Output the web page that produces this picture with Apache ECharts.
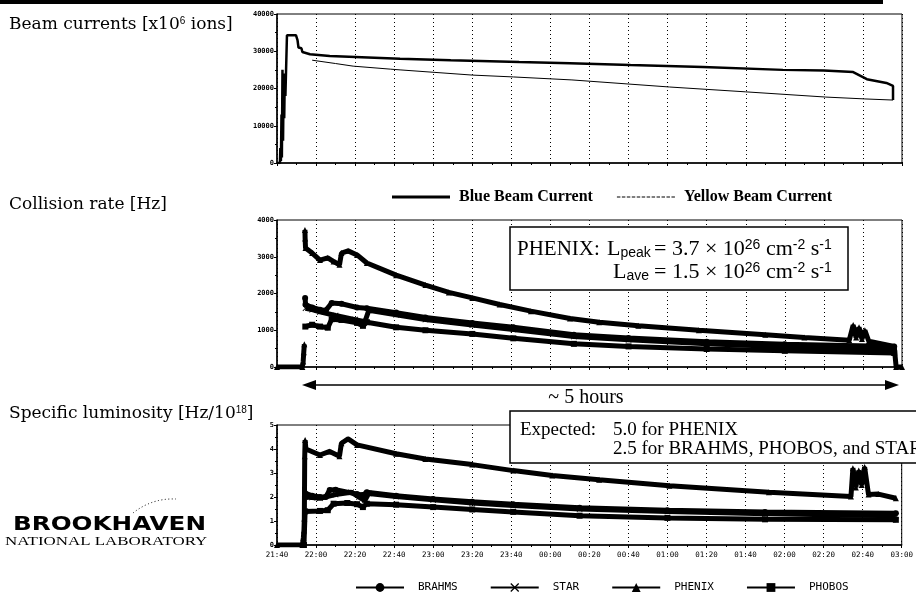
<!DOCTYPE html>
<html>
<head>
<meta charset="utf-8">
<script src="https://cdn.jsdelivr.net/npm/echarts@6/dist/echarts.min.js"></script>
<style>
  html, body { margin: 0; padding: 0; background: #fff; }
  #chart { width: 916px; height: 595px; }
</style>
</head>
<body>
<div id="chart"></div>
<script>
// x values are minutes after 21:40; one tick label every 20 minutes
const timeLabels = ['21:40','22:00','22:20','22:40','23:00','23:20','23:40','00:00','00:20',
                    '00:40','01:00','01:20','01:40','02:00','02:20','02:40','03:00'];

// Beam currents [x10^6 ions]
const blueBeam = [[0,0],[1.5,0],[1.7,4000],[2.0,500],[2.3,13000],[2.5,1500],[2.8,25000],[3.1,6000],
  [3.4,22000],[3.7,12000],[4.0,24000],[4.3,18000],[5.1,34300],[9.7,34300],[10.5,33000],[11,31000],
  [11.8,30500],[12.5,30800],[13,29800],[16.9,29200],[27,28700],[63,28000],[89,27600],[124,27100],
  [150,26800],[181,26300],[218,25800],[259,25000],[280,24800],[295,24400],[302,22500],[312,21500],
  [315.4,20700],[315.4,16900]];
const yellowBeam = [[18,27600],[30,26700],[39,26000],[58,25200],[63,25000],[100,23600],[121,23100],
  [151,22300],[201,20400],[240,19100],[281,17700],[301,17200],[315.4,16900]];

// Collision rate [Hz]
const rateBRAHMS = [[14.4,1880],[14.6,1700],[18,1620],[22,1560],[25,1540],[28,1740],[33,1720],[41,1620],
  [46,1600],[61,1480],[76,1350],[100,1200],[121,1080],[152,880],[180,790],[220,690],[260,620],[316,560]];
const rateSTAR = [[14.6,1600],[18,1560],[22,1500],[30,1400],[40,1290],[45,1230],[47,1540],[61,1420],
  [76,1290],[100,1140],[121,1020],[152,830],[180,740],[220,630],[260,550],[316,480]];
const ratePHENIX = [[0,0],[13,0],[13.4,150],[13.7,400],[14,620],[14.1,'-'],[14.3,3730],[14.4,3500],
  [14.6,3240],[18,3100],[22,2910],[26,2970],[29,2870],[32,2780],[33,3100],[36.4,3160],[41,3050],
  [46,2830],[61,2500],[76,2230],[88,2030],[100,1880],[114,1700],[130,1520],[150,1320],[165,1220],
  [185,1120],[216,1000],[250,880],[270,800],[293,730],[295,1140],[296.5,800],[298,1080],[299.5,760],
  [301,1000],[303,700],[316,560],[317,0],[320,0]];
const ratePHOBOS = [[14.5,1100],[18,1150],[22,1100],[26,1070],[28,1300],[33,1280],[41,1200],[44,1120],
  [46,1220],[61,1080],[76,1000],[100,900],[121,780],[152,630],[180,560],[220,490],[260,440],[316,380]];

// Specific luminosity [Hz/10^18]
const lumiBRAHMS = [[14.4,2.16],[18,2.05],[22,2.0],[25,2.0],[27,2.29],[30,2.3],[41,2.12],[44,2.08],
  [46,2.2],[61,2.05],[80,1.92],[100,1.8],[121,1.7],[155,1.55],[200,1.45],[250,1.38],[317,1.32]];
const lumiSTAR = [[14.4,2.0],[18,1.98],[22,1.95],[30,2.1],[38,2.2],[42,2.0],[45,1.85],[47,2.15],
  [61,2.02],[80,1.88],[100,1.75],[121,1.65],[155,1.5],[200,1.4],[250,1.3],[317,1.22]];
const lumiPHENIX = [[0,0],[13,0],[13.5,0.3],[13.8,0.6],[14,1.1],[14.2,3.7],[14.4,4.37],[14.8,4.0],
  [22,3.75],[27,3.9],[32,3.7],[33,4.24],[36.4,4.42],[41,4.17],[61,3.8],[76,3.58],[100,3.35],[121,3.1],
  [141,2.9],[165,2.72],[201,2.47],[252,2.2],[294,2.02],[295,3.2],[296.5,2.4],[298,3.1],[299.5,2.5],
  [301,3.25],[303,2.1],[308,2.12],[317,1.95]];
const lumiPHOBOS = [[13.8,0],[14.4,1.4],[22,1.42],[26,1.45],[29,1.72],[36,1.75],[41,1.7],[44,1.58],
  [46,1.72],[61,1.68],[80,1.58],[100,1.48],[121,1.38],[155,1.22],[200,1.13],[250,1.07],[317,1.05]];

const BLACK = '#000';
const mono = 'DejaVu Sans Mono';
const serif = 'Liberation Serif';
const crossPath = 'path://M0 1L1 0L5 4L9 0L10 1L6 5L10 9L9 10L5 6L1 10L0 9L4 5Z';
const markers = { BRAHMS: 'circle', STAR: crossPath, PHENIX: 'triangle', PHOBOS: 'rect' };

// legend samples for the two beams: a solid bar and a thin dashed rule
const solidSample = 'path://M0,0h0.05v0.05h-0.05z M0,4.5h58v3h-58z M57.95,11.95h0.05v0.05h-0.05z';
let dashParts = '';
for (let x = 0; x < 56; x += 5) dashParts += ' M' + x + ',5.5h3.5v1h-3.5z';
const dashedSample = 'path://M0,0h0.05v0.05h-0.05z' + dashParts + ' M57.95,11.95h0.05v0.05h-0.05z';

const chart = echarts.init(document.getElementById('chart'), null, { renderer: 'canvas' });

const grids = [
  { left: 277, top: 14, width: 625, height: 149 },
  { left: 277, top: 220, width: 625, height: 147 },
  { left: 277, top: 425, width: 625, height: 120 }
].map(g => Object.assign({ show: true, borderColor: BLACK, borderWidth: 1, backgroundColor: 'transparent' }, g));

function xAxis(i) {
  return {
    type: 'value', gridIndex: i, min: 0, max: 320, interval: 20,
    axisLine: { show: true, onZero: false, lineStyle: { color: BLACK, width: 1.5 } },
    axisTick: { show: true, length: 3, lineStyle: { color: BLACK } },
    minorTick: { show: true, splitNumber: 2, length: 2, lineStyle: { color: BLACK } },
    splitLine: { show: true, lineStyle: { color: BLACK, width: 1, type: [1, 3] } },
    axisLabel: {
      show: i === 2, margin: 6, color: BLACK, fontFamily: mono, fontSize: 7.5,
      formatter: v => timeLabels[Math.round(v / 20)]
    }
  };
}
function yAxis(i, max, interval) {
  return {
    type: 'value', gridIndex: i, min: 0, max: max, interval: interval,
    axisLine: { show: true, lineStyle: { color: BLACK, width: 1.5 } },
    axisTick: { show: true, length: 3, lineStyle: { color: BLACK } },
    minorTick: { show: true, splitNumber: 2, length: 2, lineStyle: { color: BLACK } },
    splitLine: { show: false },
    axisLabel: { margin: 3, color: BLACK, fontFamily: mono, fontSize: 7, fontWeight: 'bold',
      formatter: v => String(v) }
  };
}

function detector(name, data, axis) {
  return {
    name: name, type: 'line', xAxisIndex: axis, yAxisIndex: axis, data: data,
    symbol: markers[name], symbolSize: 6, showAllSymbol: true, connectNulls: false,
    lineStyle: { color: BLACK, width: 5 }, itemStyle: { color: BLACK }, z: 3
  };
}

function label(x, y, text, size, extra) {
  return {
    type: 'text', x: x, y: y, z: 100,
    style: Object.assign({ text: text, fontFamily: serif, fontSize: size, fill: BLACK, verticalAlign: 'middle' }, extra || {})
  };
}
function scripts(size) {
  return {
    sup: { fontSize: size, lineHeight: size, verticalAlign: 'top' },
    sub: { fontSize: size, lineHeight: size, verticalAlign: 'bottom' }
  };
}

const graphics = [
  { type: 'rect', z: 100, shape: { x: 0, y: 0, width: 883, height: 4 }, style: { fill: BLACK } },

  label(9, 25, 'Beam currents [x10{sup|6} ions]', 17, { fontFamily: 'DejaVu Serif', rich: scripts(10) }),
  label(9, 205, 'Collision rate [Hz]', 17, { fontFamily: 'DejaVu Serif' }),
  label(9, 414, 'Specific luminosity [Hz/10{sup|18}]', 17, { fontFamily: 'DejaVu Serif', rich: scripts(10) }),

  // PHENIX luminosity box
  { type: 'rect', z: 99, shape: { x: 510, y: 227, width: 338, height: 63 },
    style: { fill: '#fff', stroke: BLACK, lineWidth: 1.5 } },
  label(517, 249, 'PHENIX:', 21),
  label(607, 249, 'L{sub|peak}', 22, { rich: scripts(14) }),
  label(654, 249, '= 3.7 × 10{sup|26} cm{sup|-2} s{sup|-1}', 22, { rich: scripts(14) }),
  label(613, 272, 'L{sub|ave}', 22, { rich: scripts(14) }),
  label(654, 272, '= 1.5 × 10{sup|26} cm{sup|-2} s{sup|-1}', 22, { rich: scripts(14) }),

  // duration arrow
  { type: 'line', z: 100, shape: { x1: 310, y1: 385, x2: 890, y2: 385 }, style: { stroke: BLACK, lineWidth: 1.5 } },
  { type: 'polygon', z: 100, shape: { points: [[302, 385], [316, 380], [316, 390]] }, style: { fill: BLACK } },
  { type: 'polygon', z: 100, shape: { points: [[899, 385], [885, 380], [885, 390]] }, style: { fill: BLACK } },
  label(586, 398, '~ 5 hours', 20, { align: 'center' }),

  // expected values box
  { type: 'rect', z: 99, shape: { x: 510, y: 411, width: 420, height: 52 },
    style: { fill: '#fff', stroke: BLACK, lineWidth: 1.5 } },
  label(520, 430, 'Expected:', 19),
  label(613, 430, '5.0 for PHENIX', 19),
  label(613, 449, '2.5 for BRAHMS, PHOBOS, and STAR', 19),

  // laboratory mark
  { type: 'bezierCurve', z: 100, shape: { x1: 133, y1: 513, cpx1: 152, cpy1: 498, x2: 176, y2: 499 },
    style: { stroke: BLACK, lineWidth: 1, lineDash: [1, 2.5], fill: null } },
  { type: 'text', x: 13, y: 525, z: 100, scaleX: 1.23,
    style: { text: 'BROOKHAVEN', fontFamily: 'DejaVu Sans', fontWeight: 'bold', fontSize: 20, fill: BLACK, verticalAlign: 'middle' } },
  { type: 'text', x: 5, y: 542, z: 100, scaleX: 1.41,
    style: { text: 'NATIONAL LABORATORY', fontFamily: serif, fontSize: 12, fill: BLACK, verticalAlign: 'middle' } }
];

const option = {
  animation: false,
  backgroundColor: '#fff',
  grid: grids,
  xAxis: [xAxis(0), xAxis(1), xAxis(2)],
  yAxis: [yAxis(0, 40000, 10000), yAxis(1, 4000, 1000), yAxis(2, 5, 1)],
  legend: [
    {
      left: 387, top: 184, itemWidth: 58, itemHeight: 12, itemGap: 24,
      data: [
        { name: 'Blue Beam Current', icon: solidSample },
        { name: 'Yellow Beam Current', icon: dashedSample }
      ],
      itemStyle: { color: BLACK, borderWidth: 0 },
      textStyle: { fontFamily: serif, fontWeight: 'bold', fontSize: 16, color: BLACK, padding: [0, 0, 0, 4] }
    },
    {
      left: 350, top: 577, itemWidth: 48, itemHeight: 11, itemGap: 32,
      data: ['BRAHMS', 'STAR', 'PHENIX', 'PHOBOS'],
      lineStyle: { width: 2 },
      textStyle: { fontFamily: mono, fontSize: 11, color: BLACK, padding: [0, 0, 0, 9] }
    }
  ],
  series: [
    { name: 'Blue Beam Current', type: 'line', xAxisIndex: 0, yAxisIndex: 0, data: blueBeam,
      symbol: 'none', lineStyle: { color: BLACK, width: 2.5 }, itemStyle: { color: BLACK } },
    { name: 'Yellow Beam Current', type: 'line', xAxisIndex: 0, yAxisIndex: 0, data: yellowBeam,
      symbol: 'none', lineStyle: { color: BLACK, width: 1 }, itemStyle: { color: BLACK } },

    detector('BRAHMS', rateBRAHMS, 1),
    detector('STAR', rateSTAR, 1),
    detector('PHOBOS', ratePHOBOS, 1),
    detector('PHENIX', ratePHENIX, 1),

    detector('BRAHMS', lumiBRAHMS, 2),
    detector('STAR', lumiSTAR, 2),
    detector('PHOBOS', lumiPHOBOS, 2),
    detector('PHENIX', lumiPHENIX, 2)
  ],
  graphic: graphics
};

chart.setOption(option);
</script>
</body>
</html>
